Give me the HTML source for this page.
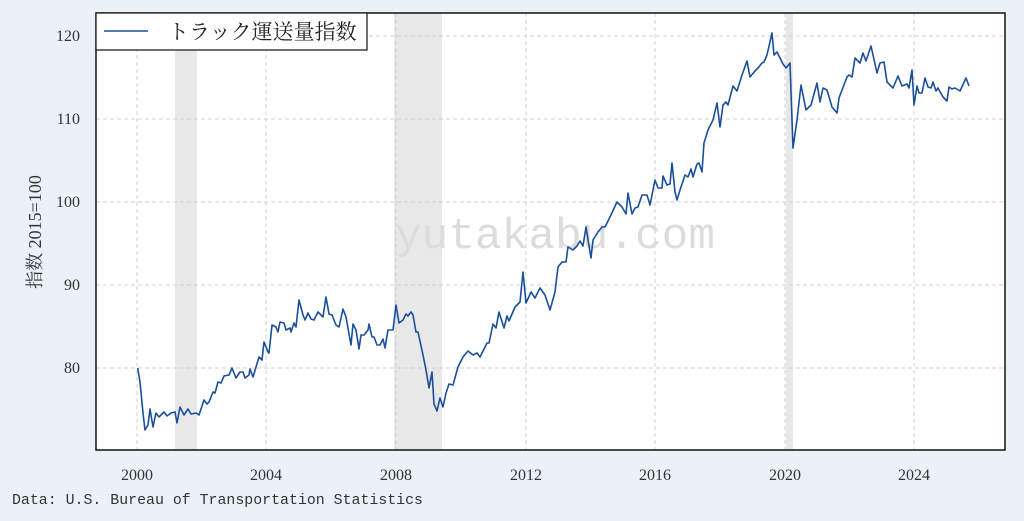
<!DOCTYPE html>
<html><head><meta charset="utf-8"><style>
html,body{margin:0;padding:0;background:#eaf1f9;}
svg{display:block;}
</style></head><body>
<svg width="1024" height="521" xmlns="http://www.w3.org/2000/svg">
<rect width="1024" height="521" fill="#eaf1f9"/>
<rect x="96" y="13" width="909" height="437" fill="#fff"/>
<g fill="#e8e8e8">
<rect x="175" y="13" width="22" height="437"/>
<rect x="394" y="13" width="48" height="437"/>
<rect x="786" y="13" width="7" height="437"/>
</g>
<g stroke="#d0d0d0" stroke-dasharray="4,3" stroke-width="1">
<line x1="137" y1="13" x2="137" y2="450"/><line x1="266" y1="13" x2="266" y2="450"/>
<line x1="396" y1="13" x2="396" y2="450"/><line x1="526" y1="13" x2="526" y2="450"/>
<line x1="655" y1="13" x2="655" y2="450"/><line x1="785" y1="13" x2="785" y2="450"/>
<line x1="914" y1="13" x2="914" y2="450"/>
<line x1="96" y1="36" x2="1005" y2="36"/><line x1="96" y1="119" x2="1005" y2="119"/>
<line x1="96" y1="202" x2="1005" y2="202"/><line x1="96" y1="285" x2="1005" y2="285"/>
<line x1="96" y1="368" x2="1005" y2="368"/>
</g>
<text x="555" y="248" font-family="Liberation Mono, monospace" font-size="44" fill="#dcdcdc" text-anchor="middle" textLength="320" lengthAdjust="spacingAndGlyphs">yutakabu.com</text>
<polyline fill="none" stroke="#1a4f9c" stroke-width="1.6" stroke-linejoin="round" points="137.7,368 140,382 143,413 145,430 148,425 150,409 153,427 156,413 159,417 164,412 167,416 171,413 175,412 177,423 180,407 184,415 188,409 191,414 196,413 199,415 204,400 207,404 209,402 213,392 215,393 218,382 221,383 224,376 229,375 232,368 236,378 240,372 243,372 245,378 249,375 250,369 253,377 259,357 262,360 264,342 268,352 269,353 272,325 276,327 278,332 280,322 284,323 286,330 290,328 291,332 294,323 296,327 299,300 303,315 305,320 308,313 311,319 314,320 318,312 323,317 326,297 329,314 332,315 336,325 339,327 343,309 346,317 351,345 353,324 356,330 359,349 361,335 364,335 368,330 369,324 372,337 374,337 377,345 380,345 383,339 385,348 388,330 393,330 396,305 399,323 403,320 406,314 408,316 411,312 413,315 416,332 418,332 423,355 426,370 429,388 432,372 434,404 437,411 440,398 443,407 446,393 449,384 453,385 458,367 463,357 468,351 473,355 477,353 480,357 487,343 489,343 493,324 496,328 499,312 504,328 507,316 509,321 515,307 520,302 523,272 526,303 531,292 535,298 540,288 545,295 550,310 555,292 558,267 562,262 566,262 568,247 573,250 577,246 580,241 583,246 586,227 591,258 593,240 598,232 602,227 605,227 610,217 617,202 622,207 626,214 628,193 632,214 635,208 638,207 642,195 647,195 650,205 655,180 658,188 662,188 663,176 667,185 670,184 672,163 675,192 677,200 680,190 685,175 688,177 691,169 693,177 697,164 699,163 702,172 704,143 708,130 713,120 717,103 720,127 723,105 726,102 728,105 733,86 737,91 742,75 747,61 750,77 755,71 758,68 762,63 764,62 767,55 772,33 774,55 777,52 783,64 786,68 790,63 793,148 797,120 801,85 806,110 811,105 817,83 820,102 823,88 827,90 832,107 837,113 839,98 847,77 849,75 852,77 855,58 860,63 863,53 866,61 871,46 877,73 880,63 884,62 887,82 893,88 898,76 902,86 907,84 909,88 912,70 914,105 917,86 919,93 922,93 925,78 928,87 931,88 933,82 936,91 938,88 943,97 947,101 949,87 952,89 955,88 960,91 966,78 969,86"/>
<rect x="96" y="13" width="909" height="437" fill="none" stroke="#111" stroke-width="1.5"/>
<rect x="96" y="13" width="271" height="37" fill="#fff" stroke="#111" stroke-width="1.2"/>
<line x1="104" y1="31" x2="148" y2="31" stroke="#1a4f9c" stroke-width="1.6"/>
<text x="168" y="39" font-family="Liberation Serif, 'Noto Serif CJK SC', serif" font-size="21" fill="#222">トラック運送量指数</text>
<g font-family="Liberation Serif, serif" font-size="16" fill="#333" text-anchor="end">
<text x="80" y="41">120</text><text x="80" y="124">110</text><text x="80" y="207">100</text>
<text x="80" y="290">90</text><text x="80" y="373">80</text>
</g>
<g font-family="Liberation Serif, serif" font-size="16" fill="#333" text-anchor="middle">
<text x="137" y="480">2000</text><text x="266" y="480">2004</text><text x="396" y="480">2008</text>
<text x="526" y="480">2012</text><text x="655" y="480">2016</text><text x="785" y="480">2020</text>
<text x="914" y="480">2024</text>
</g>
<text transform="translate(41,232) rotate(-90)" font-family="Liberation Serif, 'Noto Serif CJK SC', serif" font-size="18" fill="#333" text-anchor="middle">指数 2015=100</text>
<text x="12" y="504" font-family="Liberation Mono, 'Noto Sans CJK SC', monospace" font-size="15" fill="#333" textLength="411" lengthAdjust="spacingAndGlyphs">Data: U.S. Bureau of Transportation Statistics</text>
</svg>
</body></html>
